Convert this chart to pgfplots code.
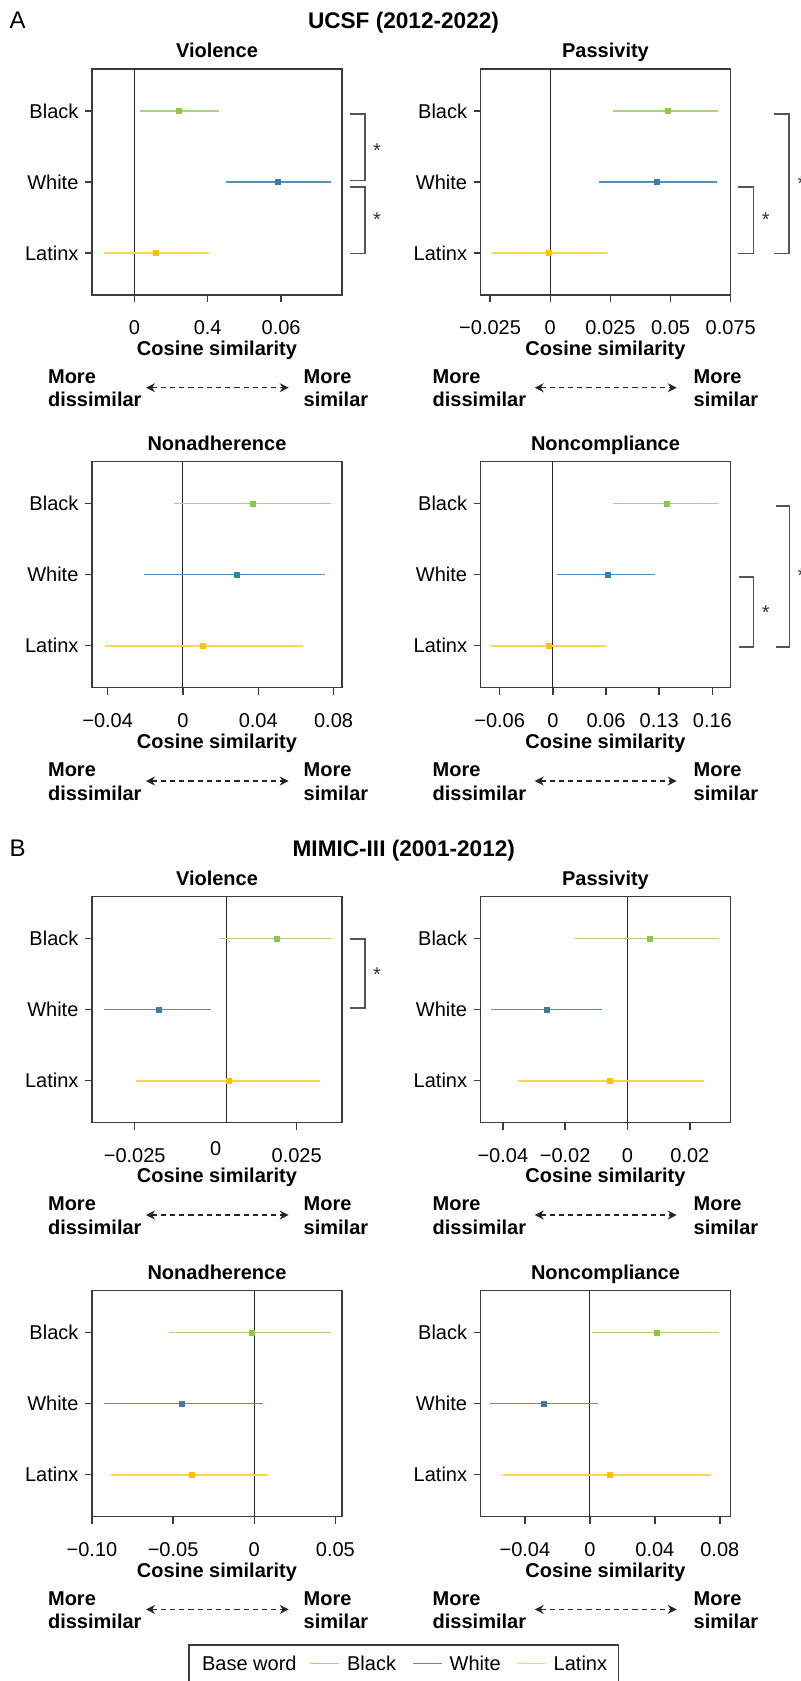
\documentclass[border=0pt]{standalone}
\usepackage{pgfplots}
\pgfplotsset{compat=1.18}
\usepackage{fontspec}
\setmainfont{Liberation Sans}
\usetikzlibrary{arrows.meta}
\definecolor{gline}{HTML}{A9D37E}
\definecolor{gmark}{HTML}{8CC74A}
\definecolor{bline}{HTML}{5690BA}
\definecolor{bmark}{HTML}{3B7DA5}
\definecolor{yline}{HTML}{FFD54A}
\definecolor{ymark}{HTML}{FFC000}
\definecolor{frame}{HTML}{3C3C3C}
\definecolor{brk}{HTML}{555555}

\newcommand{\ci}[5]{%
 \addplot[color=#5line, line width=0.75pt, forget plot] coordinates {(#1,#4) (#3,#4)};
 \addplot[color=#5mark, only marks, mark=square*, mark size=1.25pt, forget plot] coordinates {(#2,#4)};
}
\newcommand{\zeroline}[1]{%
 \addplot[color=black!85, line width=0.55pt, forget plot] coordinates {(#1,0.41) (#1,3.59)};
}

\pgfplotsset{
 forest/.style={
  scale only axis, width=125pt, height=113pt,
  anchor=north west,
  ymin=0.41, ymax=3.59,
  ytick={1,2,3}, yticklabels={Latinx,White,Black},
  scaled x ticks=false, scaled y ticks=false,
  axis line style={frame, line width=0.7pt},
  every tick/.style={frame, line width=0.7pt},
  tick align=outside, major tick length=3.4pt,
  xtick pos=left, ytick pos=left,
  yticklabel style={anchor=east, inner sep=0pt, xshift=-3.2pt},
  xticklabel style={anchor=base, inner sep=0pt, yshift=-16.35pt},
  clip=false,
 }
}

\newcommand{\lowerann}[5]{% #1 B, #2 dissim x, #3 arrow x1, #4 arrow x2, #5 sim x
 \node[anchor=base west, inner sep=0pt, font=\bfseries] at ({#2},{#1+88.3}) {More};
 \node[anchor=base west, inner sep=0pt, font=\bfseries] at ({#2},{#1+111.7}) {dissimilar};
 \node[anchor=base west, inner sep=0pt, font=\bfseries] at ({#5},{#1+88.3}) {More};
 \node[anchor=base west, inner sep=0pt, font=\bfseries] at ({#5},{#1+111.7}) {similar};
 \draw[black!85, line width=0.6pt, dash pattern=on 2.6pt off 2pt, {Stealth[length=4.5pt,width=4.5pt]}-{Stealth[length=4.5pt,width=4.5pt]}] ({#3},{#1+92.7}) -- ({#4},{#1+92.7});
}
\newcommand{\panelann}[4]{% #1 C, #2 T, #3 B, #4 title
 \node[anchor=base, inner sep=0pt, font=\bfseries] at ({#1},{#2-11.7}) {#4};
 \node[anchor=base, inner sep=0pt, font=\bfseries] at ({#1},{#3+60.3}) {Cosine similarity};
}
\newcommand{\sig}[2]{\node[anchor=base, inner sep=0pt, text=black!80] at ({#1},{#2+10.5}) {*};}

\begin{document}
\begin{tikzpicture}
\path[use as bounding box] (0,0) rectangle (400.5pt,-840.5pt);

% ---------- A: UCSF ----------
\begin{axis}[forest, at={(46pt,-34.5pt)},
  xmin=-0.0173, xmax=0.0849,
  xtick={0,0.03,0.06}, xticklabels={0,0.4,0.06}]
 \zeroline{0}
 \ci{0.0023}{0.0184}{0.0348}{3}{g}
 \ci{0.0375}{0.0585}{0.0802}{2}{b}
 \ci{-0.0123}{0.0090}{0.0304}{1}{y}
\end{axis}

\begin{axis}[forest, at={(240.35pt,-34.5pt)},
  xmin=-0.0289, xmax=0.075,
  xtick={-0.025,0,0.025,0.05,0.075}, xticklabels={−0.025,0,0.025,0.05,0.075}]
 \zeroline{0}
 \ci{0.0262}{0.0491}{0.0699}{3}{g}
 \ci{0.0203}{0.0445}{0.0692}{2}{b}
 \ci{-0.0243}{-0.0004}{0.0236}{1}{y}
\end{axis}

\begin{axis}[forest, at={(46pt,-230.85pt)},
  xmin=-0.0483, xmax=0.0845,
  xtick={-0.04,0,0.04,0.08}, xticklabels={−0.04,0,0.04,0.08}]
 \zeroline{0}
 \ci{-0.0048}{0.0369}{0.0786}{3}{g}
 \ci{-0.0207}{0.0284}{0.0757}{2}{b}
 \ci{-0.0415}{0.0108}{0.0637}{1}{y}
\end{axis}

\begin{axis}[forest, at={(240.35pt,-230.85pt)},
  xmin=-0.0814, xmax=0.2007,
  xtick={-0.06,0,0.06,0.12,0.18}, xticklabels={−0.06,0,0.06,0.13,0.16}]
 \zeroline{0}
 \ci{0.0678}{0.1284}{0.1864}{3}{g}
 \ci{0.0052}{0.0617}{0.1156}{2}{b}
 \ci{-0.0697}{-0.0050}{0.0602}{1}{y}
\end{axis}

% ---------- B: MIMIC-III ----------
\begin{axis}[forest, at={(46pt,-448.35pt)},
  xmin=-0.0382, xmax=0.0390,
  xtick={-0.025,0.025}, xticklabels={−0.025,0.025},
  extra x ticks={0}, extra x tick labels={0},
  extra x tick style={major tick length=0pt}]
 \zeroline{0.00334}
 \ci{0.0009}{0.0188}{0.0360}{3}{g}
 \ci{-0.0344}{-0.0174}{-0.0013}{2}{b}
 \ci{-0.0247}{0.0040}{0.0321}{1}{y}
\end{axis}

\begin{axis}[forest, at={(240.35pt,-448.35pt)},
  xmin=-0.0471, xmax=0.0331,
  xtick={-0.04,-0.02,0,0.02}, xticklabels={−0.04,−0.02,0,0.02}]
 \zeroline{0}
 \ci{-0.0168}{0.0071}{0.0293}{3}{g}
 \ci{-0.0437}{-0.0260}{-0.0082}{2}{b}
 \ci{-0.0351}{-0.0055}{0.0244}{1}{y}
\end{axis}

\begin{axis}[forest, at={(46pt,-645.35pt)},
  xmin=-0.1, xmax=0.0541,
  xtick={-0.1,-0.05,0,0.05}, xticklabels={−0.10,−0.05,0,0.05}]
 \zeroline{0}
 \ci{-0.0525}{-0.0016}{0.0473}{3}{g}
 \ci{-0.0926}{-0.0443}{0.0054}{2}{b}
 \ci{-0.0881}{-0.0387}{0.0083}{1}{y}
\end{axis}

\begin{axis}[forest, at={(240.35pt,-645.35pt)},
  xmin=-0.0672, xmax=0.0867,
  xtick={-0.04,0,0.04,0.08}, xticklabels={−0.04,0,0.04,0.08}]
 \zeroline{0}
 \ci{0.0014}{0.0411}{0.0793}{3}{g}
 \ci{-0.0614}{-0.0280}{0.0049}{2}{b}
 \ci{-0.0532}{0.0121}{0.0748}{1}{y}
\end{axis}

% ---------- annotations (pixel coordinates) ----------
\begin{scope}[x=0.5pt,y=-0.5pt]
 \node[anchor=base west, inner sep=0pt, font=\fontsize{12}{14}\selectfont] at (9.3,28.3) {A};
 \node[anchor=base, inner sep=0pt, font=\fontsize{11.3}{13}\selectfont\bfseries] at (403.5,28.3) {UCSF (2012-2022)};
 \node[anchor=base west, inner sep=0pt, font=\fontsize{12}{14}\selectfont] at (9.3,856) {B};
 \node[anchor=base, inner sep=0pt, font=\fontsize{11.3}{13}\selectfont\bfseries] at (403.8,856) {MIMIC-III (2001-2012)};

 \panelann{217}{69}{295}{Violence}
 \panelann{605.5}{69}{295}{Passivity}
 \panelann{217}{461.7}{688.3}{Nonadherence}
 \panelann{605.5}{461.7}{688.3}{Noncompliance}
 \panelann{217}{896.7}{1122.3}{Violence}
 \panelann{605.5}{896.7}{1122.3}{Passivity}
 \panelann{217}{1290.7}{1516.7}{Nonadherence}
 \panelann{605.5}{1290.7}{1516.7}{Noncompliance}

 \lowerann{295}{47.7}{146}{288.7}{303.3}
 \lowerann{295}{432.3}{534.7}{676.7}{693.3}
 \lowerann{688.3}{47.7}{146}{288.7}{303.3}
 \lowerann{688.3}{432.3}{534.7}{676.7}{693.3}
 \lowerann{1122.3}{47.7}{146}{288.7}{303.3}
 \lowerann{1122.3}{432.3}{534.7}{676.7}{693.3}
 \lowerann{1516.7}{47.7}{146}{288.7}{303.3}
 \lowerann{1516.7}{432.3}{534.7}{676.7}{693.3}

 % significance brackets
 \begin{scope}[brk, line width=0.8pt]
  \draw (350,114) -- (365,114) -- (365,180.3) -- (350,180.3);
  \draw (350,187) -- (365,187) -- (365,253.3) -- (350,253.3);
  \draw (738,187) -- (753.3,187) -- (753.3,253.3) -- (738,253.3);
  \draw (774,114) -- (789,114) -- (789,253.3) -- (774,253.3);
  \draw (739,576.7) -- (753.3,576.7) -- (753.3,647) -- (739,647);
  \draw (776,505.7) -- (789.3,505.7) -- (789.3,647) -- (776,647);
  \draw (350,938.7) -- (365,938.7) -- (365,1008) -- (350,1008);
 \end{scope}
 \sig{377}{146.7}
 \sig{377}{215.7}
 \sig{765.7}{215.7}
 \sig{801.5}{180}
 \sig{765.7}{609}
 \sig{801.5}{571.7}
 \sig{377}{971}

 % legend
 \draw[frame, line width=0.6pt] (189,1690) -- (189,1645) -- (618.3,1645) -- (618.3,1690);
 \node[anchor=base west, inner sep=0pt] at (201.7,1670) {Base word};
 \draw[gline, line width=0.7pt] (310,1663.3) -- (339,1663.3);
 \node[anchor=base west, inner sep=0pt] at (346.7,1670) {Black};
 \draw[bline, line width=0.7pt] (412.7,1663.3) -- (441.7,1663.3);
 \node[anchor=base west, inner sep=0pt] at (449.3,1670) {White};
 \draw[yline, line width=0.7pt] (517.3,1663.3) -- (546,1663.3);
 \node[anchor=base west, inner sep=0pt] at (553.3,1670) {Latinx};
\end{scope}
\end{tikzpicture}
\end{document}
